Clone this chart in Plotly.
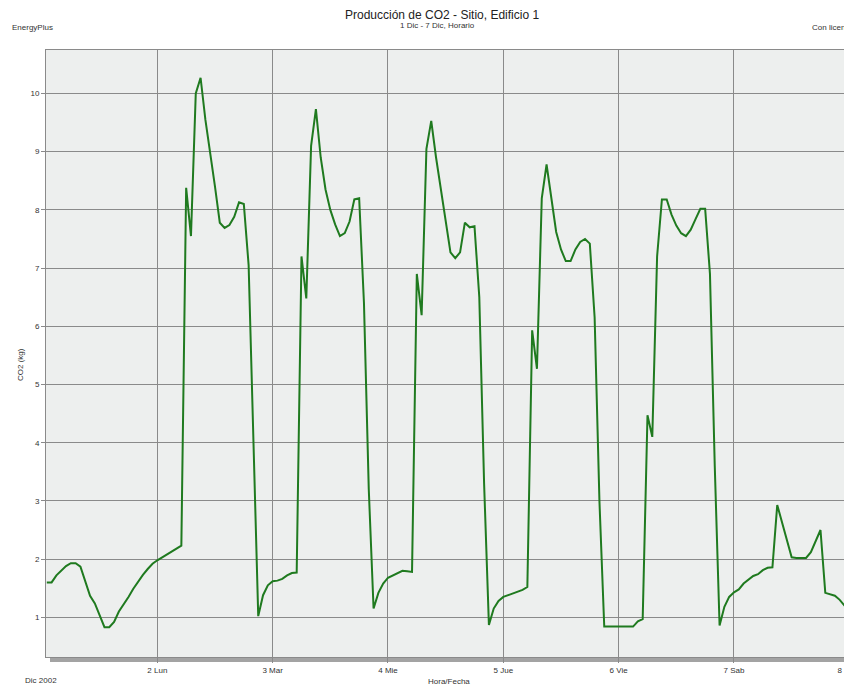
import plotly.graph_objects as go
import pandas as pd

# Hourly CO2 production (kg), Dec 1 01:00 .. Dec 8 00:00
dom1 = [1.60, 1.60, 1.72, 1.80, 1.88, 1.93, 1.93, 1.87, 1.62, 1.37, 1.24, 1.05,
        0.83, 0.83, 0.92, 1.10, 1.22, 1.35, 1.49, 1.62, 1.73, 1.83, 1.92, 1.98]
lun2 = [2.03, 2.08, 2.13, 2.18, 2.23, 8.38, 7.55, 10.00, 10.27, 9.55, 9.00, 8.40,
        7.78, 7.69, 7.74, 7.88, 8.13, 8.10, 7.05, 4.10, 1.02, 1.38, 1.55, 1.62]
mar3 = [1.63, 1.66, 1.72, 1.76, 1.77, 7.20, 6.48, 9.10, 9.73, 8.90, 8.35, 8.00,
        7.75, 7.55, 7.60, 7.80, 8.18, 8.20, 6.40, 3.20, 1.15, 1.42, 1.58, 1.68]
mie4 = [1.72, 1.77, 1.80, 1.79, 1.78, 6.90, 6.19, 9.05, 9.53, 8.90, 8.35, 7.75,
        7.27, 7.17, 7.27, 7.78, 7.70, 7.72, 6.50, 3.30, 0.87, 1.15, 1.28, 1.35]
jue5 = [1.38, 1.41, 1.44, 1.47, 1.52, 5.93, 5.27, 8.20, 8.78, 8.20, 7.62, 7.32,
        7.12, 7.12, 7.32, 7.45, 7.50, 7.42, 6.15, 3.00, 0.84, 0.84, 0.84, 0.84]
vie6 = [0.84, 0.84, 0.84, 0.93, 0.97, 4.47, 4.10, 7.20, 8.18, 8.18, 7.92, 7.73,
        7.60, 7.55, 7.66, 7.84, 8.02, 8.02, 6.90, 3.60, 0.86, 1.18, 1.35, 1.43]
sab7 = [1.48, 1.58, 1.64, 1.71, 1.74, 1.81, 1.85, 1.86, 2.93, 2.62, 2.33, 2.03,
        2.02, 2.02, 2.02, 2.12, 2.32, 2.50, 1.42, 1.40, 1.37, 1.30, 1.20, 1.10]

co2 = dom1 + lun2 + mar3 + mie4 + jue5 + vie6 + sab7
times = pd.date_range("2002-12-01 01:00", periods=len(co2), freq="h")

tick_dates = ["2002-12-02", "2002-12-03", "2002-12-04", "2002-12-05",
              "2002-12-06", "2002-12-07", "2002-12-08"]
tick_text = ["2 Lun", "3 Mar", "4 Mie", "5 Jue", "6 Vie", "7 Sab", "8 Dom"]
y_ticks = [1, 2, 3, 4, 5, 6, 7, 8, 9, 10]

OFF = 8  # default page body margin
W, H = 852 - OFF, 686 - OFF
L, R, T, B = 38, 1, 42, 29
pw, ph = W - L - R, H - T - B


def px(x):
    return (x - OFF - L) / pw


def py(y):
    return (H - B - (y - OFF)) / ph


fig = go.Figure()
fig.add_trace(go.Scatter(x=times, y=co2, mode="lines",
                         line=dict(color="#1f7a1f", width=2),
                         hoverinfo="skip", showlegend=False))

font_small = dict(family="Liberation Sans, Arial, sans-serif", size=8, color="#333333")

annos = [
    dict(text="Producción de CO2 - Sitio, Edificio 1", x=px(442), y=py(14.5),
         xanchor="center", yanchor="middle",
         font=dict(family="Liberation Sans, Arial, sans-serif", size=12, color="#222222")),
    dict(text="1 Dic - 7 Dic, Horario", x=px(437), y=py(25.5), xanchor="center",
         yanchor="middle", font=font_small),
    dict(text="EnergyPlus", x=px(10), y=py(28), xanchor="left", yanchor="middle",
         font=font_small),
    dict(text="Con licencia", x=px(810), y=py(28), xanchor="left", yanchor="middle",
         font=font_small),
    dict(text="Dic 2002", x=px(23), y=py(680), xanchor="left", yanchor="middle",
         font=font_small),
    dict(text="Hora/Fecha", x=px(426), y=py(681), xanchor="left", yanchor="middle",
         font=font_small),
    dict(text="CO2 (kg)", x=px(20), y=py(365), xanchor="center", yanchor="middle",
         textangle=-90, font=font_small),
]
for a in annos:
    a.update(xref="paper", yref="paper", showarrow=False)

fig.update_layout(
    width=W, height=H,
    margin=dict(l=L, r=R, t=T, b=B, pad=0, autoexpand=False),
    paper_bgcolor="white",
    plot_bgcolor="#edefee",
    annotations=annos,
    shapes=[dict(type="rect", xref="paper", yref="paper",
                 x0=px(50), x1=1.01, y0=py(662), y1=py(657.5),
                 fillcolor="#a3a3a3", line=dict(width=0), layer="below")],
    font=font_small,
)

fig.update_xaxes(
    type="date",
    range=["2002-12-01 00:50", "2002-12-08 00:21"],
    tickvals=tick_dates, ticktext=tick_text,
    ticklabeloverflow="allow", automargin=False,
    showgrid=True, gridcolor="#8a8a8a", gridwidth=1,
    showline=True, linecolor="#8a8a8a", linewidth=1, mirror=True,
    ticks="outside", ticklen=5, tickcolor="#8a8a8a",
    tickfont=font_small, zeroline=False,
)
fig.update_yaxes(
    range=[0.318, 10.747],
    tickvals=y_ticks, automargin=False,
    showgrid=True, gridcolor="#8a8a8a", gridwidth=1,
    showline=True, linecolor="#8a8a8a", linewidth=1, mirror=True,
    ticks="outside", ticklen=4, tickcolor="#8a8a8a",
    tickfont=font_small, zeroline=False,
)

fig.write_html("out.html")
